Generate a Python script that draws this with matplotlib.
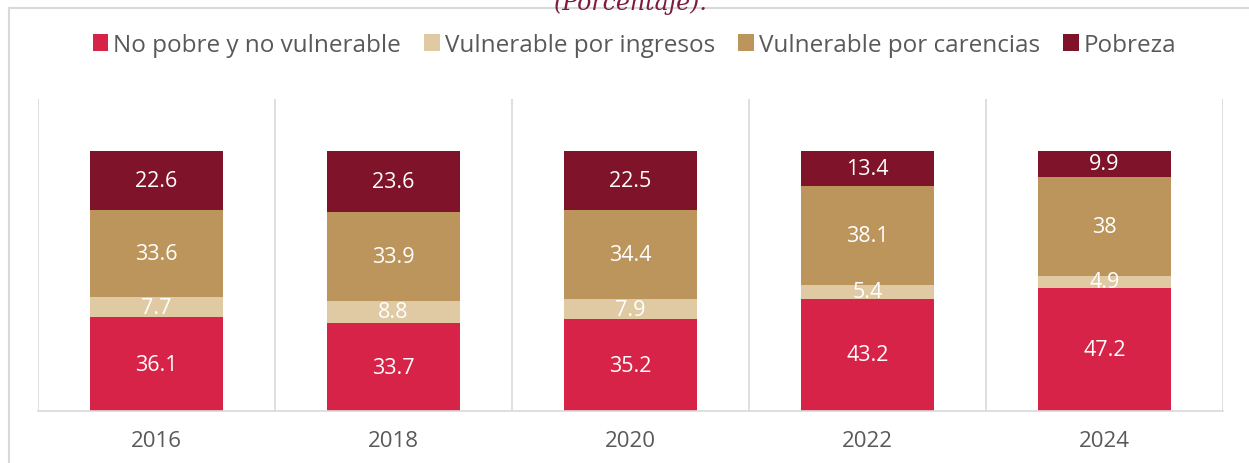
import matplotlib.pyplot as plt
from matplotlib.lines import Line2D
import numpy as np

# Data
years = ['2016', '2018', '2020', '2022', '2024']
no_pobre = [36.1, 33.7, 35.2, 43.2, 47.2]
vuln_ingresos = [7.7, 8.8, 7.9, 5.4, 4.9]
vuln_carencias = [33.6, 33.9, 34.4, 38.1, 38]
pobreza = [22.6, 23.6, 22.5, 13.4, 9.9]
labels = ['No pobre y no vulnerable', 'Vulnerable por ingresos',
          'Vulnerable por carencias', 'Pobreza']
colors = ['#D82349', '#DFCAA4', '#BC955C', '#7E1329']

plt.rcParams['font.family'] = ['Open Sans', 'DejaVu Sans']

fig = plt.figure(figsize=(12.49, 4.64), dpi=100)
ax = fig.add_axes([38 / 1249, 1 - 412 / 464, (1223 - 38) / 1249, (412 - 100) / 464])

x = np.arange(len(years))
series = [no_pobre, vuln_ingresos, vuln_carencias, pobreza]
bottom = np.zeros(len(years))
for vals, lab, col in zip(series, labels, colors):
    vals = np.array(vals)
    ax.bar(x, vals, width=0.557, bottom=bottom, color=col, label=lab)
    for xi, b, v in zip(x, bottom, vals):
        ax.text(xi, b + v / 2, f'{v:g}', ha='center', va='center',
                color='white', fontsize=15.5)
    bottom += vals

ax.set_xlim(-0.5, len(years) - 0.5)
ax.set_ylim(0, 120)
ax.set_yticks([])
ax.set_xticks(x)
ax.set_xticklabels(years, fontsize=16, color='#595959')
ax.tick_params(axis='x', length=0, pad=14)
for xb in np.arange(-0.5, len(years), 1):
    ax.axvline(xb, color='#D9D9D9', lw=1.2, zorder=0)
for s in ['top', 'left', 'right']:
    ax.spines[s].set_visible(False)
ax.spines['bottom'].set_color('#D9D9D9')
ax.spines['bottom'].set_linewidth(1.2)

fig.legend(loc='center', bbox_to_anchor=(0.508, 1 - 46 / 464), ncol=4,
           frameon=False, fontsize=17.5, handlelength=0.65, handleheight=0.7,
           handletextpad=0.2, columnspacing=0.95, labelcolor='#595959')

# Cut-off subtitle and figure frame
fig.text(0.505, 1 - 3 / 464, '(Porcentaje).', ha='center', va='center',
         fontsize=17, style='italic', family='DejaVu Serif', color='#7E1B3A')
fig.add_artist(Line2D([9 / 1249, 9 / 1249], [0, 1 - 9 / 464], color='#D9D9D9',
                      lw=1.5, transform=fig.transFigure))
fig.add_artist(Line2D([9 / 1249, 1], [1 - 9 / 464, 1 - 9 / 464], color='#D9D9D9',
                      lw=1.5, transform=fig.transFigure))

fig.savefig('out.png', dpi=100)
